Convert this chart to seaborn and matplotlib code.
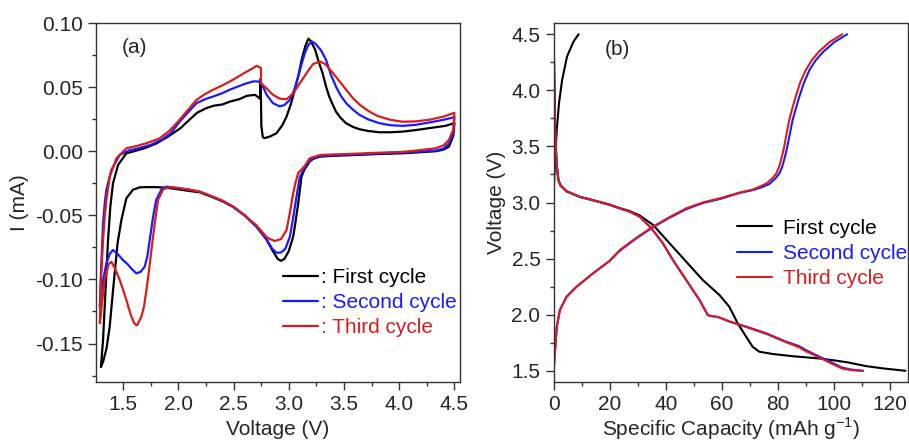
import matplotlib
matplotlib.use("Agg")
import matplotlib.pyplot as plt
import seaborn as sns
import numpy as np
import pandas as pd
from matplotlib.ticker import MultipleLocator

# ---- (a) cyclic voltammetry, voltage (V) / current (mA) ----
v1_up = [1.30, 1.319, 1.334, 1.349, 1.364, 1.385, 1.409, 1.455, 1.53, 1.60, 1.70, 1.80, 1.90, 2.02, 2.10, 2.17,
         2.25, 2.32, 2.40, 2.47, 2.55, 2.62, 2.695, 2.74, 2.746, 2.752, 2.765, 2.78, 2.83, 2.888, 2.94, 2.98,
         3.02, 3.055, 3.09, 3.116, 3.15, 3.178, 3.20, 3.24, 3.27, 3.306, 3.336, 3.366, 3.40, 3.427, 3.47, 3.518,
         3.58, 3.639, 3.72, 3.82, 3.92, 4.03, 4.15, 4.27, 4.42, 4.50]
i1_up = [-0.168, -0.147, -0.121, -0.095, -0.069, -0.043, -0.025, -0.0107, -0.0016, 0.0, 0.0025, 0.006, 0.011,
         0.018, 0.0245, 0.030, 0.0335, 0.0355, 0.0365, 0.0388, 0.0405, 0.0432, 0.044, 0.041, 0.0565, 0.020,
         0.011, 0.0102, 0.0115, 0.014, 0.020, 0.027, 0.037, 0.048, 0.060, 0.071, 0.082, 0.0878, 0.086, 0.079,
         0.070, 0.061, 0.051, 0.0427, 0.036, 0.031, 0.026, 0.0219, 0.019, 0.0172, 0.0158, 0.0148, 0.0148,
         0.0153, 0.0165, 0.018, 0.0198, 0.022]
v1_dn = [4.50, 4.49, 4.45, 4.40, 4.33, 4.15, 4.03, 3.80, 3.58, 3.40, 3.28, 3.22, 3.19, 3.14, 3.115, 3.085,
         3.06, 3.04, 3.00, 2.96, 2.93, 2.90, 2.85, 2.80, 2.71, 2.60, 2.495, 2.40, 2.30, 2.193, 2.10, 2.00, 1.90,
         1.80, 1.70, 1.65, 1.59, 1.53, 1.485, 1.45, 1.424, 1.40, 1.379, 1.35, 1.32, 1.30]
i1_dn = [0.022, 0.012, 0.0036, 0.0012, 0.0, -0.001, -0.0016, -0.0022, -0.003, -0.0036, -0.0042, -0.006,
         -0.008, -0.0146, -0.020, -0.041, -0.056, -0.0667, -0.078, -0.084, -0.0855, -0.084, -0.077, -0.069,
         -0.059, -0.050, -0.0433, -0.039, -0.0355, -0.032, -0.031, -0.0297, -0.0285, -0.028, -0.028, -0.0282,
         -0.030, -0.0367, -0.0536, -0.072, -0.0953, -0.117, -0.137, -0.154, -0.164, -0.168]

v2_up = [1.29, 1.30, 1.319, 1.335, 1.349, 1.394, 1.47, 1.55, 1.65, 1.75, 1.85, 1.93, 2.012, 2.09, 2.165, 2.24,
         2.316, 2.39, 2.467, 2.54, 2.618, 2.68, 2.724, 2.753, 2.80, 2.857, 2.918, 2.96, 3.01, 3.05, 3.085, 3.116,
         3.146, 3.175, 3.208, 3.24, 3.29, 3.338, 3.38, 3.43, 3.47, 3.52, 3.58, 3.64, 3.72, 3.82, 3.92, 4.03, 4.15,
         4.27, 4.40, 4.50]
i2_up = [-0.121, -0.095, -0.056, -0.040, -0.030, -0.0146, -0.0029, 0.0005, 0.0025, 0.005, 0.009, 0.014, 0.023,
         0.0305, 0.0375, 0.0405, 0.0427, 0.045, 0.048, 0.0505, 0.053, 0.0545, 0.0544, 0.053, 0.044, 0.0375,
         0.035, 0.036, 0.040, 0.048, 0.058, 0.068, 0.0766, 0.0825, 0.0857, 0.084, 0.079, 0.0713, 0.060, 0.050,
         0.0435, 0.0375, 0.0325, 0.0284, 0.0248, 0.0219, 0.0203, 0.0198, 0.0206, 0.0224, 0.0245, 0.0266]
v2_dn = [4.50, 4.49, 4.45, 4.40, 4.33, 4.15, 4.03, 3.80, 3.58, 3.40, 3.28, 3.22, 3.17, 3.13, 3.10, 3.07, 3.04,
         3.01, 2.97, 2.93, 2.89, 2.85, 2.80, 2.71, 2.60, 2.495, 2.40, 2.30, 2.193, 2.10, 2.00, 1.893, 1.848, 1.80,
         1.772, 1.742, 1.72, 1.696, 1.66, 1.621, 1.58, 1.54, 1.50, 1.45, 1.409, 1.38, 1.349, 1.319, 1.30, 1.29]
i2_dn = [0.0266, 0.014, 0.006, 0.002, 0.0005, -0.0005, -0.001, -0.0018, -0.0025, -0.0032, -0.0038, -0.0055,
         -0.009, -0.015, -0.020, -0.0355, -0.052, -0.0667, -0.076, -0.079, -0.0792, -0.076, -0.069, -0.059,
         -0.050, -0.0433, -0.039, -0.035, -0.0315, -0.030, -0.0287, -0.0276, -0.0297, -0.038, -0.051, -0.069,
         -0.082, -0.090, -0.094, -0.0953, -0.092, -0.088, -0.085, -0.080, -0.077, -0.080, -0.0875, -0.1005,
         -0.112, -0.121]

v3_up = [1.29, 1.30, 1.319, 1.335, 1.349, 1.379, 1.44, 1.53, 1.62, 1.71, 1.83, 1.92, 2.012, 2.09, 2.165, 2.24,
         2.316, 2.39, 2.467, 2.54, 2.618, 2.67, 2.708, 2.748, 2.75, 2.80, 2.857, 2.92, 2.98, 3.04, 3.10, 3.17,
         3.22, 3.283, 3.33, 3.40, 3.46, 3.52, 3.58, 3.645, 3.72, 3.80, 3.92, 4.03, 4.15, 4.27, 4.40, 4.50]
i3_up = [-0.134, -0.100, -0.069, -0.050, -0.038, -0.020, -0.0055, 0.0023, 0.004, 0.0062, 0.010, 0.016, 0.0245,
         0.0325, 0.040, 0.0445, 0.048, 0.051, 0.0544, 0.058, 0.062, 0.0645, 0.0666, 0.065, 0.053, 0.049, 0.044,
         0.041, 0.0406, 0.045, 0.053, 0.062, 0.068, 0.070, 0.068, 0.061, 0.0545, 0.048, 0.0415, 0.036, 0.0315,
         0.0276, 0.0245, 0.023, 0.0233, 0.0245, 0.027, 0.030]
v3_dn = [4.50, 4.49, 4.45, 4.40, 4.33, 4.15, 4.03, 3.80, 3.58, 3.40, 3.28, 3.19, 3.14, 3.085, 3.06, 3.04, 3.01,
         2.98, 2.93, 2.873, 2.83, 2.80, 2.71, 2.60, 2.495, 2.40, 2.30, 2.193, 2.10, 2.00, 1.92, 1.863, 1.817,
         1.787, 1.757, 1.735, 1.712, 1.69, 1.666, 1.63, 1.621, 1.60, 1.576, 1.55, 1.53, 1.50, 1.47, 1.43, 1.394,
         1.37, 1.35, 1.334, 1.31, 1.29]
i3_dn = [0.030, 0.017, 0.0088, 0.0045, 0.0023, 0.0005, -0.0005, -0.0012, -0.002, -0.0025, -0.003, -0.0055,
         -0.012, -0.017, -0.025, -0.033, -0.048, -0.0615, -0.0685, -0.070, -0.0685, -0.067, -0.058, -0.050,
         -0.043, -0.0385, -0.035, -0.0315, -0.030, -0.0287, -0.028, -0.0297, -0.038, -0.056, -0.077, -0.093,
         -0.108, -0.121, -0.129, -0.1355, -0.1357, -0.134, -0.129, -0.122, -0.116, -0.108, -0.1005, -0.092,
         -0.0862, -0.088, -0.095, -0.1005, -0.118, -0.134]

# ---- (b) charge / discharge, capacity (mAh/g) / voltage (V) ----
c1_chg = [0.1, 0.5, 1.1, 1.9, 3.0, 4.75, 7.1, 8.9]
u1_chg = [3.15, 3.38, 3.647, 3.885, 4.09, 4.30, 4.435, 4.50]
c1_dis = [0.0, 0.2, 0.5, 1.0, 1.7, 2.5, 4.6, 9.4, 14.1, 20, 23.6, 27, 30.7, 35.5, 41.4, 47.3, 53.2, 59.2, 62.7,
          65.7, 68.7, 71.0, 73.4, 78.1, 85.3, 94.7, 99.5, 105, 111.4, 118, 125.6]
u1_dis = [4.50, 4.10, 3.70, 3.35, 3.20, 3.15, 3.10, 3.05, 3.02, 2.98, 2.95, 2.925, 2.885, 2.80, 2.636, 2.473,
          2.31, 2.175, 2.071, 1.923, 1.804, 1.715, 1.67, 1.65, 1.63, 1.61, 1.595, 1.575, 1.542, 1.52, 1.50]

c2_chg = [0.0, 0.3, 0.6, 1.1, 2.2, 4.6, 8.2, 14.1, 20, 23.6, 29.5, 35.5, 41.4, 47.3, 53.2, 59.2, 66.3, 71.0,
          74.2, 77.0, 79.2, 80.6, 81.6, 82.5, 83.4, 84.4, 85.3, 86.5, 87.7, 89.4, 91.3, 93.6, 96.3, 100.2, 104.8]
u2_chg = [1.50, 1.62, 1.715, 1.89, 2.04, 2.16, 2.25, 2.37, 2.48, 2.57, 2.68, 2.78, 2.865, 2.94, 2.995, 3.03,
          3.085, 3.11, 3.135, 3.165, 3.216, 3.26, 3.32, 3.40, 3.498, 3.62, 3.736, 3.84, 3.944, 4.07, 4.18, 4.27,
          4.345, 4.43, 4.50]
c2_dis = [0.0, 0.2, 0.5, 1.0, 1.7, 2.5, 4.6, 9.4, 14.1, 20, 23.6, 27, 30.7, 34.9, 39.0, 42.6, 47.3, 52.1, 55.0,
          56.2, 58.6, 62.7, 68.7, 75.8, 82.9, 87.6, 90.0, 94.7, 98.3, 103, 106.5, 110.5]
u2_dis = [4.50, 4.10, 3.70, 3.35, 3.20, 3.15, 3.10, 3.05, 3.02, 2.98, 2.948, 2.92, 2.874, 2.77, 2.636, 2.487,
          2.31, 2.13, 1.997, 1.988, 1.98, 1.94, 1.894, 1.835, 1.76, 1.72, 1.685, 1.628, 1.585, 1.528, 1.51, 1.50]

c3_chg = [0.0, 0.3, 0.6, 1.1, 2.2, 4.6, 8.2, 14.1, 20, 23.6, 29.5, 35.5, 41.4, 47.3, 53.2, 59.2, 66.3, 71.0,
          73.4, 76.0, 78.1, 79.5, 80.5, 81.4, 82.3, 83.2, 84.1, 85.2, 86.4, 88.0, 90.0, 92.2, 94.7, 98.5, 103.0]
u3_chg = [1.50, 1.62, 1.715, 1.89, 2.04, 2.16, 2.25, 2.37, 2.48, 2.577, 2.685, 2.786, 2.87, 2.948, 3.00, 3.037,
          3.088, 3.115, 3.14, 3.17, 3.216, 3.26, 3.32, 3.40, 3.498, 3.62, 3.736, 3.84, 3.944, 4.07, 4.18, 4.27,
          4.345, 4.43, 4.50]
c3_dis = [0.0, 0.2, 0.5, 1.0, 1.7, 2.5, 4.6, 9.4, 14.1, 20, 23.6, 27, 30.7, 34.9, 39.0, 42.6, 47.3, 52.1, 55.0,
          56.2, 58.6, 62.7, 68.7, 75.8, 82.9, 87.6, 90.0, 94.7, 98.3, 103, 106.5, 110.0]
u3_dis = [4.50, 4.10, 3.70, 3.35, 3.20, 3.15, 3.10, 3.05, 3.02, 2.98, 2.948, 2.92, 2.874, 2.77, 2.636, 2.487,
          2.31, 2.13, 1.997, 1.988, 1.98, 1.94, 1.89, 1.83, 1.755, 1.71, 1.675, 1.62, 1.575, 1.52, 1.505, 1.50]

cycle_names = ["First cycle", "Second cycle", "Third cycle"]
cycle_colors = ["#000000", "#1a1aff", "#d91c1c"]

sns.set_style("ticks")
plt.rcParams["font.family"] = ["Liberation Sans", "DejaVu Sans"]
plt.rcParams["mathtext.fontset"] = "custom"
plt.rcParams["mathtext.rm"] = "Liberation Sans"

fig = plt.figure(figsize=(9.09, 4.43), dpi=100)
ax1 = fig.add_axes([0.1056, 0.1377, 0.4004, 0.8103])
ax2 = fig.add_axes([0.6091, 0.1377, 0.3898, 0.8103])

cv = [(v1_up + v1_dn, i1_up + i1_dn), (v2_up + v2_dn, i2_up + i2_dn), (v3_up + v3_dn, i3_up + i3_dn)]
for (v, i), name, col in zip(cv, cycle_names, cycle_colors):
    sns.lineplot(x=v, y=i, sort=False, estimator=None, color=col, lw=1.6, ax=ax1, label=": " + name)

gc = [(c1_chg, u1_chg, c1_dis, u1_dis), (c2_chg, u2_chg, c2_dis, u2_dis), (c3_chg, u3_chg, c3_dis, u3_dis)]
for (cc, uc, cd, ud), name, col in zip(gc, cycle_names, cycle_colors):
    sns.lineplot(x=cd, y=ud, sort=False, estimator=None, color=col, lw=1.5, ax=ax2, label=name)
    sns.lineplot(x=cc, y=uc, sort=False, estimator=None, color=col, lw=1.5, ax=ax2)

ax1.set_xlim(1.255, 4.55)
ax1.set_ylim(-0.18, 0.10)
ax1.xaxis.set_major_locator(MultipleLocator(0.5))
ax1.xaxis.set_minor_locator(MultipleLocator(0.25))
ax1.yaxis.set_major_locator(MultipleLocator(0.05))
ax1.yaxis.set_minor_locator(MultipleLocator(0.025))
ax1.yaxis.set_major_formatter(matplotlib.ticker.FormatStrFormatter("%.2f"))
ax1.set_xlabel("Voltage (V)", fontsize=15, labelpad=4)
ax1.set_ylabel("I (mA)", fontsize=15, labelpad=4)
ax1.text(0.107, 0.933, "(a)", transform=ax1.transAxes, fontsize=15, ha="center", va="center")

ax2.set_xlim(0, 126.5)
ax2.set_ylim(1.4, 4.6)
ax2.xaxis.set_major_locator(MultipleLocator(20))
ax2.xaxis.set_minor_locator(MultipleLocator(10))
ax2.yaxis.set_major_locator(MultipleLocator(0.5))
ax2.yaxis.set_minor_locator(MultipleLocator(0.25))
ax2.set_xlabel("Specific Capacity (mAh g$^{-1}$)", fontsize=15, labelpad=1)
ax2.set_ylabel("Voltage (V)", fontsize=15, labelpad=4)
ax2.text(0.181, 0.925, "(b)", transform=ax2.transAxes, fontsize=15, ha="center", va="center")

for ax in (ax1, ax2):
    for s in ax.spines.values():
        s.set_visible(True)
        s.set_color("#333333")
        s.set_linewidth(1.0)
    ax.tick_params(which="major", direction="out", length=6, width=1.0, labelsize=15, color="#333333")
    ax.tick_params(which="minor", direction="out", length=3, width=1.0, color="#333333")

ax1.legend(loc="upper left", bbox_to_anchor=(0.514, 0.318), frameon=False, fontsize=15,
           handlelength=1.7, handletextpad=0.1, labelspacing=0.3, borderpad=0, borderaxespad=0,
           labelcolor="linecolor")
ax2.legend(loc="upper left", bbox_to_anchor=(0.516, 0.455), frameon=False, fontsize=15,
           handlelength=1.7, handletextpad=0.55, labelspacing=0.3, borderpad=0, borderaxespad=0,
           labelcolor="linecolor")

fig.savefig("out.png", dpi=100)
